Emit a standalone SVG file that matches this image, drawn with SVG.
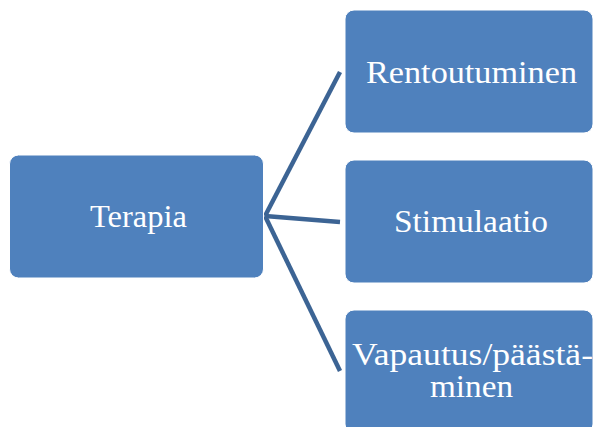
<svg xmlns="http://www.w3.org/2000/svg" width="594" height="427" viewBox="0 0 594 427">
<style>
.box{fill:#4f81bd;stroke:#ffffff;stroke-width:1}
.lbl{font-family:"Liberation Serif","DejaVu Serif",serif;font-size:31px;fill:#ffffff;text-anchor:middle}
.con{stroke:#3c6494;stroke-width:4.5;fill:none}
</style>
<rect width="594" height="427" fill="#ffffff"/>
<g id="connectors">
<line class="con" x1="265" y1="216" x2="340" y2="72"/>
<line class="con" x1="265" y1="216" x2="340" y2="222"/>
<line class="con" x1="265" y1="216" x2="340" y2="371"/>
</g>
<g id="terapia">
<rect class="box" x="9.5" y="155" width="254" height="123" rx="9"/>
<text class="lbl" x="138.5" y="227" textLength="97" lengthAdjust="spacingAndGlyphs">Terapia</text>
</g>
<g id="rentoutuminen">
<rect class="box" x="345" y="10" width="248" height="123" rx="9"/>
<text class="lbl" x="471.5" y="83" textLength="211" lengthAdjust="spacingAndGlyphs">Rentoutuminen</text>
</g>
<g id="stimulaatio">
<rect class="box" x="345" y="160" width="248" height="123" rx="9"/>
<text class="lbl" x="471" y="232" textLength="154" lengthAdjust="spacingAndGlyphs">Stimulaatio</text>
</g>
<g id="vapautus">
<rect class="box" x="345" y="310" width="248" height="123" rx="9"/>
<text class="lbl" x="472.5" y="365" textLength="241" lengthAdjust="spacingAndGlyphs">Vapautus/päästä-</text>
<text class="lbl" x="471.5" y="397" textLength="83" lengthAdjust="spacingAndGlyphs">minen</text>
</g>
</svg>
